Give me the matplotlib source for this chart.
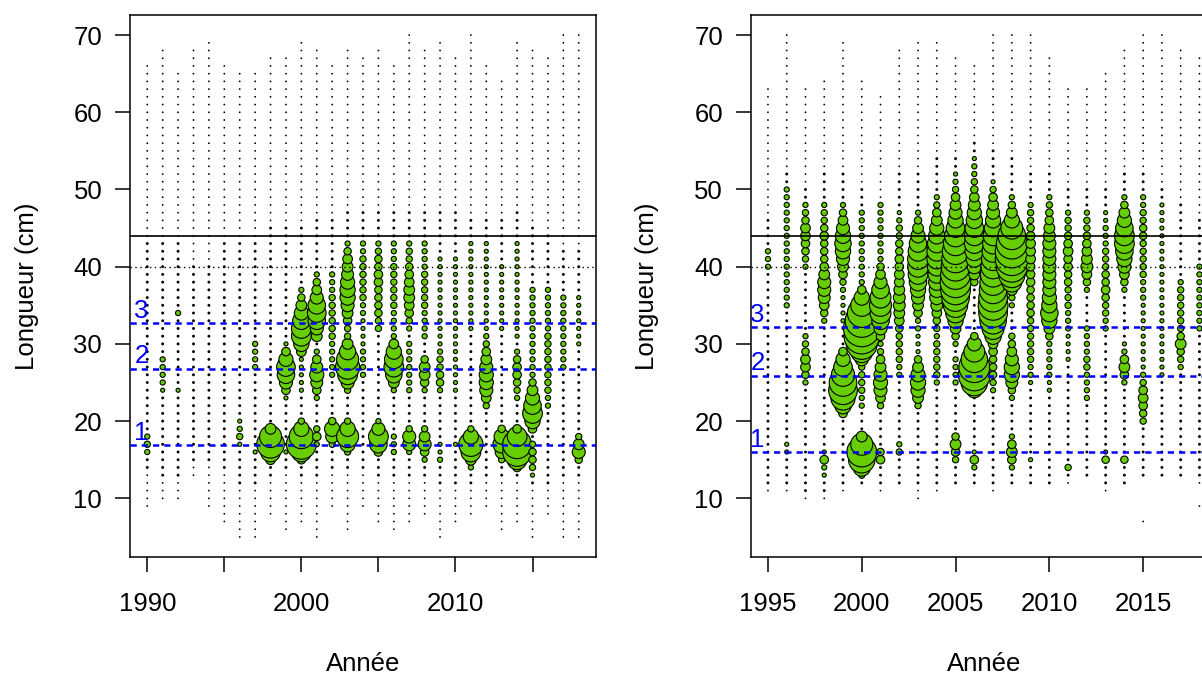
import matplotlib
matplotlib.use("Agg")
import matplotlib.pyplot as plt

plt.rcParams['font.family'] = ['Liberation Sans', 'DejaVu Sans']

# ---- left panel: 1990-2018 ----
left_years = list(range(1990, 2019))
left_dot_lo = [9, 10, 10, 13, 9, 7, 5, 5, 8, 6, 7, 5, 9, 6, 9, 7, 6, 7, 8, 5, 7, 8, 9, 6, 7, 5, 8, 5, 5]
left_dot_hi = [66, 68, 65, 68, 69, 66, 65, 65, 67, 67, 69, 68, 66, 68, 67, 68, 66, 70, 68, 69, 67, 70, 66, 64, 69, 68, 67, 70, 70]
left_core_lo = [14, 13, 13, 15, 15, 14, 12, 12, 13, 14, 13, 13, 14, 14, 14, 13, 13, 13, 13, 12, 12, 12, 13, 13, 13, 12, 12, 13, 13]
left_core_hi = [43, 43, 43, 40, 40, 43, 43, 43, 45, 45, 45, 46, 46, 47, 47, 47, 47, 47, 47, 47, 47, 46, 46, 46, 47, 45, 44, 42, 42]
left_extra = []
# (year, first length, bubble index for successive lengths)
left_green = [
    (1990, 16, [5, 6, 5]),
    (1991, 24, [4, 5, 5, 5, 5]),
    (1992, 24, [4]), (1992, 34, [5]),
    (1996, 17, [4, 6, 5, 4]),
    (1997, 16, [4]), (1997, 27, [5, 5, 5, 5]),
    (1998, 15, [9, 18, 25, 20, 10]),
    (1999, 16, [4]), (1999, 23, [4, 8, 12, 16, 17, 13, 8, 4]),
    (2000, 15, [8, 18, 27, 22, 14, 6]), (2000, 24, [4, 4, 4, 4, 4]),
    (2000, 29, [9, 14, 18, 18, 16, 13, 10, 7, 5]),
    (2001, 17, [5, 8, 6]), (2001, 23, [5, 8, 11, 13, 11, 8, 5]),
    (2001, 31, [10, 12, 16, 17, 16, 12, 9, 7, 5, 3]),
    (2002, 17, [6, 12, 14, 7]), (2002, 26, [5, 5, 5, 5, 5, 6, 6, 6, 6, 6, 6, 5, 5, 5]),
    (2003, 16, [6, 14, 20, 14, 6]), (2003, 24, [6, 12, 18, 22, 20, 15, 10, 6]),
    (2003, 32, [6, 8, 10, 12, 14, 14, 13, 11, 10, 9, 7, 5]),
    (2004, 26, [5, 5, 5, 5, 4, 4, 4, 4, 5, 5, 6, 6, 6, 6, 6, 6, 5, 5]),
    (2005, 16, [8, 16, 18, 12, 5]), (2005, 32, [6, 6, 7, 7, 7, 7, 8, 8, 7, 7, 6, 5]),
    (2006, 16, [5, 5, 5]), (2006, 24, [5, 10, 15, 18, 17, 14, 9, 5]),
    (2006, 32, [5, 5, 5, 6, 6, 6, 6, 6, 6, 5, 5, 5]),
    (2007, 16, [5, 12, 12, 6]), (2007, 24, [5, 5, 5, 5, 5, 5, 5]),
    (2007, 32, [5, 6, 8, 9, 10, 10, 9, 8, 7, 6, 6, 5]),
    (2008, 15, [5, 8, 12, 10, 6]), (2008, 24, [5, 8, 10, 10, 7]),
    (2008, 31, [5, 5, 5, 5, 6, 6, 6, 6, 6, 5, 5, 5, 5]),
    (2009, 15, [5, 4, 4]), (2009, 24, [5, 7, 7, 6, 6, 5]), (2009, 30, [4] * 12),
    (2010, 17, [4]), (2010, 24, [4] * 18),
    (2011, 14, [5, 10, 18, 22, 14, 6]), (2011, 32, [4] * 12),
    (2012, 22, [6, 9, 12, 13, 13, 12, 10, 8, 6, 5]), (2012, 32, [4] * 12),
    (2013, 15, [6, 12, 16, 14, 7]), (2013, 32, [4] * 9),
    (2014, 14, [8, 18, 26, 26, 18, 8]), (2014, 23, [5, 6, 7, 8, 8, 7, 5]), (2014, 31, [4] * 13),
    (2015, 13, [4, 6, 7, 7, 6]), (2015, 19, [8, 14, 18, 16, 13, 10, 7]), (2015, 26, [5] * 12),
    (2016, 22, [5, 5, 6, 6, 6, 6, 6, 6, 6, 6, 5, 5, 5, 5, 5, 5]),
    (2017, 27, [5] * 10),
    (2018, 15, [7, 12, 10, 6]), (2018, 30, [4] * 7),
]
left_refs = [32.7, 26.8, 16.9]

# ---- right panel: 1995-2018 ----
right_years = list(range(1995, 2019))
right_dot_lo = [11, 11, 10, 10, 11, 12, 11, 12, 10, 11, 12, 12, 11, 12, 12, 12, 12, 13, 11, 12, 13, 13, 13, 12]
right_dot_hi = [63, 70, 63, 64, 69, 64, 62, 68, 69, 69, 67, 66, 70, 70, 70, 67, 63, 63, 65, 68, 70, 70, 68, 67]
right_core_lo = [12, 12, 11, 11, 12, 12, 12, 12, 12, 12, 12, 12, 12, 12, 12, 12, 13, 13, 12, 12, 13, 13, 13, 13]
right_core_hi = [46, 52, 50, 52, 52, 50, 48, 52, 52, 54, 54, 56, 55, 54, 52, 52, 50, 50, 50, 52, 52, 50, 48, 46]
right_extra = [(2015, 7), (2018, 9)]
right_green = [
    (1995, 40, [5, 5, 5]),
    (1996, 16, [4, 4]), (1996, 35, [5] * 16),
    (1997, 25, [5, 7, 9, 9, 7, 6, 5]), (1997, 40, [5, 6, 7, 8, 9, 9, 7, 6, 5]),
    (1998, 13, [4, 5, 8, 4]), (1998, 33, [5, 7, 9, 11, 12, 12, 10, 8, 7, 7, 7, 8, 7, 6, 6, 5]),
    (1999, 21, [8, 15, 22, 26, 25, 21, 17, 13, 8]), (1999, 33, [4, 4, 4, 4]),
    (1999, 37, [5, 6, 8, 10, 12, 14, 15, 14, 12, 9, 7, 5]),
    (2000, 13, [6, 16, 24, 27, 20, 10]), (2000, 22, [5, 5, 6, 6, 6, 6]),
    (2000, 28, [12, 20, 28, 32, 33, 30, 26, 20, 14, 8]), (2000, 38, [5] * 10),
    (2001, 15, [8, 7]), (2001, 22, [6, 9, 12, 13, 12, 10, 8, 6]),
    (2001, 30, [5, 8, 12, 16, 19, 20, 19, 16, 12, 9, 7, 5]), (2001, 42, [5] * 7),
    (2002, 16, [6, 5]),
    (2002, 26, [5, 5, 6, 6, 6, 6, 7, 9, 10, 11, 11, 10, 9, 9, 8, 8, 7, 7, 6, 6, 5, 4]),
    (2003, 22, [6, 10, 13, 14, 13, 10, 7]), (2003, 29, [4, 4, 4, 5]),
    (2003, 33, [5, 8, 10, 12, 14, 16, 18, 19, 19, 18, 16, 13, 10, 7, 5]),
    (2004, 25, [5, 6, 6, 6, 6, 6]),
    (2004, 31, [5, 6, 7, 9, 11, 13, 14, 15, 16, 17, 18, 18, 17, 15, 13, 10, 8, 6, 5]),
    (2005, 15, [6, 8, 10, 7]), (2005, 25, [5, 5, 5, 5]),
    (2005, 30, [5, 7, 10, 14, 18, 22, 25, 27, 28, 27, 26, 25, 24, 22, 20, 17, 14, 12, 10, 8, 6, 5, 4]),
    (2006, 14, [5, 8, 4]), (2006, 24, [14, 24, 29, 28, 24, 19, 13, 7]),
    (2006, 38, [7, 10, 13, 15, 17, 18, 18, 17, 15, 13, 11, 9, 7, 6, 5, 5, 4]),
    (2007, 24, [5, 6, 7, 7, 7, 8]),
    (2007, 30, [9, 15, 20, 24, 26, 27, 26, 25, 24, 23, 22, 21, 20, 19, 18, 16, 14, 12, 10, 8, 6, 4]),
    (2008, 14, [5, 8, 10, 8, 5]), (2008, 23, [5, 7, 11, 14, 14, 12, 9, 7, 6]),
    (2008, 35, [5, 6, 10, 18, 24, 28, 30, 30, 28, 25, 20, 14, 10, 7, 5]),
    (2009, 15, [4]),
    (2009, 25, [4, 5, 5, 6, 6, 6, 6, 6, 6, 7, 7, 7, 7, 8, 8, 8, 9, 9, 9, 8, 7, 6, 6, 5]),
    (2010, 24, [4, 4, 5, 5, 5, 5]),
    (2010, 30, [5, 7, 10, 14, 16, 14, 13, 12, 12, 12, 12, 12, 12, 12, 11, 10, 8, 7, 6, 5]),
    (2011, 14, [6]), (2011, 28, [4, 4, 4, 4, 5, 5, 5, 6, 6, 6, 7, 7, 8, 8, 9, 8, 7, 6, 6, 5]),
    (2012, 23, [5, 5, 5, 5, 6, 6, 5, 5, 5, 5]), (2012, 37, [5, 7, 9, 11, 10, 9, 8, 7, 6, 6, 5]),
    (2013, 15, [7, 4]), (2013, 32, [5, 5, 6, 6, 7, 8, 7, 7, 6, 6, 6, 5, 5, 5, 4, 4]),
    (2014, 15, [7]), (2014, 25, [5, 8, 10, 8, 5, 4]),
    (2014, 37, [5, 7, 9, 12, 14, 16, 18, 18, 16, 13, 10, 7, 5]),
    (2015, 20, [6, 7, 8, 9, 8, 6, 5]), (2015, 27, [4] * 9),
    (2015, 36, [5, 5, 5, 6, 6, 6, 6, 6, 7, 7, 6, 6, 5, 5]),
    (2016, 26, [4] * 23),
    (2017, 27, [5, 6, 7, 10, 7, 6, 6, 6, 6, 6, 6, 5]),
    (2018, 32, [5] * 9),
]
right_refs = [32.2, 25.9, 16.0]

ref_labels = ['3', '2', '1']
DOT, CORE = 1.8, 2.9          # index of the smallest catches
yticks = [10, 20, 30, 40, 50, 60, 70]
upper_line, dotted_line = 44, 40
GREEN = '#66CD00'
PX = 0.72 * 1.12              # bubble index -> points


def collect(years, lo, hi, clo, chi, extra, greens):
    vals = {}
    for y, a, b, c, d in zip(years, lo, hi, clo, chi):
        for L in range(a, b + 1):
            vals[(y, L)] = DOT
        for L in range(c, d + 1):
            vals[(y, L)] = CORE
    for y, L in extra:
        vals[(y, L)] = DOT
    for y, start, sizes in greens:
        for i, s in enumerate(sizes):
            vals[(y, start + i)] = s
    return vals


def draw(ax, vals, refs, xlim, xticks, xlabels, lab_x):
    keys = sorted(vals)
    small = [k for k in keys if vals[k] < 3.5]
    big = [k for k in keys if vals[k] >= 3.5]
    ax.scatter([k[0] for k in small], [k[1] for k in small],
               s=[(vals[k] * 0.72) ** 2 for k in small], c='black', lw=0, zorder=2)
    ax.scatter([k[0] for k in big], [k[1] for k in big],
               s=[(vals[k] * PX - 0.3) ** 2 for k in big], c=GREEN,
               edgecolors='black', linewidths=0.8, zorder=3)
    ax.axhline(upper_line, color='black', lw=1.2, zorder=4)
    ax.axhline(dotted_line, color='black', lw=1.0, ls=(0, (1, 2.5)), zorder=4)
    for r, t in zip(refs, ref_labels):
        ax.axhline(r, color='blue', lw=1.8, ls=(0, (2.5, 2)), zorder=4)
        ax.text(lab_x, r + 0.7, t, color='blue', fontsize=18.5, ha='center', va='baseline', zorder=5)
    ax.set_xlim(*xlim)
    ax.set_ylim(2.4, 72.6)
    ax.set_xticks(xticks)
    ax.set_xticklabels(xlabels)
    ax.set_yticks(yticks)
    ax.tick_params(axis='both', direction='out', length=11, width=1.1, labelsize=18.5)
    ax.tick_params(axis='x', pad=14)
    ax.tick_params(axis='y', pad=9)
    for sp in ax.spines.values():
        sp.set_linewidth(1.1)
    ax.set_xlabel('Année', fontsize=18.5)
    ax.xaxis.set_label_coords(0.5, -0.176)
    ax.set_ylabel('Longueur (cm)', fontsize=18.5)
    ax.yaxis.set_label_coords(-0.196, 0.5)


fig = plt.figure(figsize=(12.02, 6.75), dpi=100)
W, H = 1202, 675
ax1 = fig.add_axes([130 / W, 1 - 557 / H, 466 / W, 542 / H])
ax2 = fig.add_axes([750.7 / W, 1 - 557 / H, 466 / W, 542 / H])

lv = collect(left_years, left_dot_lo, left_dot_hi, left_core_lo, left_core_hi, left_extra, left_green)
rv = collect(right_years, right_dot_lo, right_dot_hi, right_core_lo, right_core_hi, right_extra, right_green)

draw(ax1, lv, left_refs, (1988.88, 2019.12), [1990, 1995, 2000, 2005, 2010, 2015],
     ['1990', '', '2000', '', '2010', ''], 1989.62)
draw(ax2, rv, right_refs, (1994.08, 2018.92), [1995, 2000, 2005, 2010, 2015],
     ['1995', '2000', '2005', '2010', '2015'], 1994.44)

fig.savefig('out.png', dpi=100)
